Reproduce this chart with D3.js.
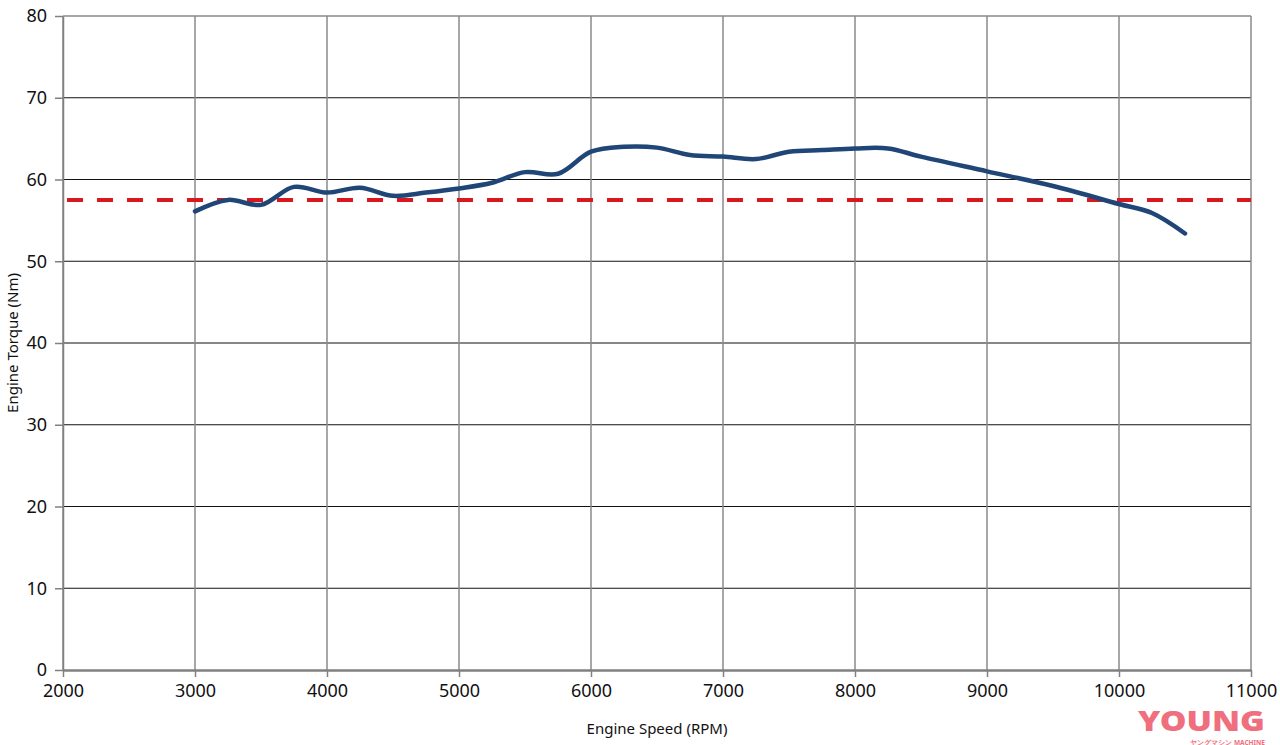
<!DOCTYPE html>
<html><head><meta charset="utf-8">
<script src="https://cdn.jsdelivr.net/npm/d3@7"></script>
<style>body{margin:0;background:#fff}svg{display:block}text{font-family:"Noto Sans",sans-serif}</style>
</head><body>
<svg id="c" width="1280" height="745"></svg>
<script>
const rpm =    [3000,3250,3500,3750,4000,4250,4500,4750,5000,5250,5500,5750,6000,6250,6500,6750,7000,7250,7500,7750,8000,8250,8500,9000,9500,10000,10250,10500];
const torque = [56.1,57.5,56.9,59.1,58.4,59.0,58.0,58.4,58.9,59.6,60.9,60.7,63.4,64.0,63.9,63.0,62.8,62.5,63.4,63.6,63.8,63.8,62.8,61.0,59.2,57.0,55.9,53.4];
const reference = 57.5;
const xTicks = [2000,3000,4000,5000,6000,7000,8000,9000,10000,11000];
const yTicks = [0,10,20,30,40,50,60,70,80];
const xLabel = "Engine Speed (RPM)";
const yLabel = "Engine Torque (Nm)";

const svg = d3.select("#c");
const x = d3.scaleLinear().domain([2000,11000]).range([63,1251]);
const y = d3.scaleLinear().domain([0,80]).range([670,16]);

svg.append("g").selectAll("line").data(yTicks.filter(v=>v>0&&v<80)).join("line")
  .attr("x1",x(2000)).attr("x2",x(11000)).attr("y1",d=>y(d)).attr("y2",d=>y(d))
  .attr("stroke","#111").attr("stroke-width",1.2);
svg.append("g").selectAll("line").data(xTicks).join("line")
  .attr("x1",d=>x(d)).attr("x2",d=>x(d)).attr("y1",y(0)).attr("y2",y(80))
  .attr("stroke","#8a8a8a").attr("stroke-width",1.5);
svg.append("line").attr("x1",x(2000)).attr("x2",x(11000)).attr("y1",y(80)).attr("y2",y(80))
  .attr("stroke","#8a8a8a").attr("stroke-width",1.5);

const xAxis = d3.axisBottom(x).tickValues(xTicks).tickFormat(d3.format("d")).tickSize(7).tickSizeOuter(0);
const gx = svg.append("g").attr("transform",`translate(0,${y(0)})`).call(xAxis);
gx.select(".domain").attr("stroke","#808080").attr("stroke-width",2.5);
gx.selectAll(".tick line").attr("stroke","#808080").attr("stroke-width",1.5);
gx.selectAll(".tick text").attr("font-size",18).attr("fill","#111").attr("dy","0.95em");

const yAxis = d3.axisLeft(y).tickValues(yTicks).tickSize(8).tickSizeOuter(0);
const gy = svg.append("g").attr("transform",`translate(${x(2000)},0)`).call(yAxis);
gy.select(".domain").attr("stroke","#808080").attr("stroke-width",1.5);
gy.selectAll(".tick line").attr("stroke","#808080").attr("stroke-width",1.5);
gy.selectAll(".tick text").attr("font-size",18).attr("fill","#111").attr("x",-16);

svg.append("line").attr("x1",x(2000)+4).attr("x2",x(11000)).attr("y1",y(reference)).attr("y2",y(reference))
  .attr("stroke","#d7191f").attr("stroke-width",4).attr("stroke-dasharray","16,14");

const line = d3.line().x((d,i)=>x(rpm[i])).y(d=>y(d)).curve(d3.curveCatmullRom.alpha(0.5));
svg.append("path").datum(torque).attr("d",line).attr("fill","none")
  .attr("stroke","#1f4677").attr("stroke-width",4.5).attr("stroke-linecap","round").attr("stroke-linejoin","round");

svg.append("text").attr("x",(x(2000)+x(11000))/2).attr("y",734).attr("text-anchor","middle")
  .attr("font-size",15).attr("fill","#111").text(xLabel);
svg.append("text").attr("transform",`translate(18,${y(40)}) rotate(-90)`).attr("text-anchor","middle")
  .attr("font-size",15).attr("fill","#111").text(yLabel);

const wm = svg.append("g").attr("fill","#ef6f7e");
wm.append("text").attr("x",1265).attr("y",731).attr("text-anchor","end").attr("font-size",28)
  .attr("font-weight","900").attr("font-family","'DejaVu Sans Condensed','DejaVu Sans',sans-serif")
  .attr("textLength",127).attr("lengthAdjust","spacingAndGlyphs").text("YOUNG");
wm.append("text").attr("x",1265).attr("y",744.5).attr("text-anchor","end").attr("font-size",6.5)
  .attr("font-weight","bold").attr("font-family","'DejaVu Sans Condensed',sans-serif")
  .text("ヤングマシン MACHINE");
</script>
</body></html>
